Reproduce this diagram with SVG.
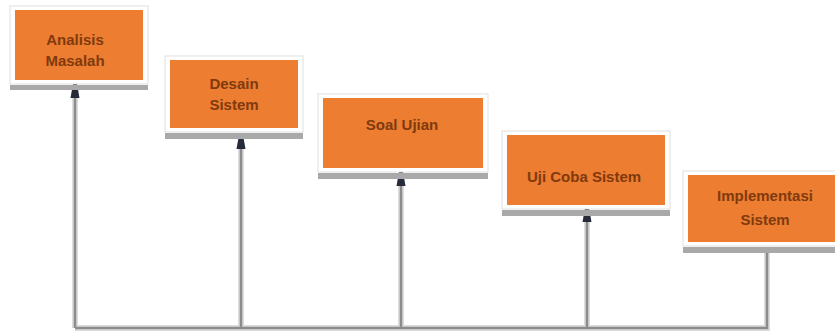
<svg xmlns="http://www.w3.org/2000/svg" width="835" height="332" viewBox="0 0 835 332">
<defs>
<style>
.shadow{fill:#a9a9a9}
.frame{fill:#ffffff;stroke:#e0e0e0;stroke-width:1}
.box{fill:#ed7d31}
.lbl{font-family:"Liberation Sans",Arial,sans-serif;font-size:15px;font-weight:bold;fill:#7f3a0e;text-anchor:middle}
.halo{fill:none;stroke:#dcdcdc;stroke-width:6}
.line{fill:none;stroke:#8c8c8c;stroke-width:2.5}
</style>
<marker id="arr" markerUnits="userSpaceOnUse" markerWidth="14" markerHeight="10" viewBox="0 0 14 10" refX="14" refY="5" orient="auto">
<path d="M0,0.5 L14,3 L14,7 L0,9.5 z" fill="#262b3a"/>
</marker>
</defs>
<rect width="835" height="332" fill="#ffffff"/>
<g id="connectors">
<path class="halo" d="M767,252 V328 H75"/>
<path class="halo" d="M75,328 V90 M241,328 V140 M401,328 V178 M587,328 V214"/>
<path class="line" d="M767,252 V328 H75"/>
<path class="line" d="M75,328 V84" marker-end="url(#arr)"/>
<path class="line" d="M241,328 V135" marker-end="url(#arr)"/>
<path class="line" d="M401,328 V172" marker-end="url(#arr)"/>
<path class="line" d="M587,328 V208" marker-end="url(#arr)"/>
</g>
<g id="analisis-masalah">
<rect class="shadow" x="10" y="85" width="138" height="5"/>
<rect class="frame" x="10" y="6" width="138" height="78"/>
<rect class="box" x="15" y="10" width="128" height="70"/>
<text class="lbl" x="75" y="45">Analisis</text>
<text class="lbl" x="75" y="66">Masalah</text>
</g>
<g id="desain-sistem">
<rect class="shadow" x="165" y="133" width="138" height="6"/>
<rect class="frame" x="165" y="56" width="138" height="76"/>
<rect class="box" x="170" y="60" width="128" height="68"/>
<text class="lbl" x="234" y="89">Desain</text>
<text class="lbl" x="234" y="110">Sistem</text>
</g>
<g id="soal-ujian">
<rect class="shadow" x="318" y="173" width="170" height="6"/>
<rect class="frame" x="318" y="94" width="170" height="78"/>
<rect class="box" x="323" y="98" width="160" height="70"/>
<text class="lbl" x="402" y="130">Soal Ujian</text>
</g>
<g id="uji-coba-sistem">
<rect class="shadow" x="502" y="210" width="168" height="6"/>
<rect class="frame" x="502" y="131" width="168" height="78"/>
<rect class="box" x="507" y="135" width="158" height="70"/>
<text class="lbl" x="584" y="182">Uji Coba Sistem</text>
</g>
<g id="implementasi-sistem">
<rect class="shadow" x="683" y="247" width="164" height="6"/>
<rect class="frame" x="683" y="171" width="164" height="75"/>
<rect class="box" x="688" y="175" width="154" height="67"/>
<text class="lbl" x="765" y="201">Implementasi</text>
<text class="lbl" x="765" y="225">Sistem</text>
</g>
</svg>
